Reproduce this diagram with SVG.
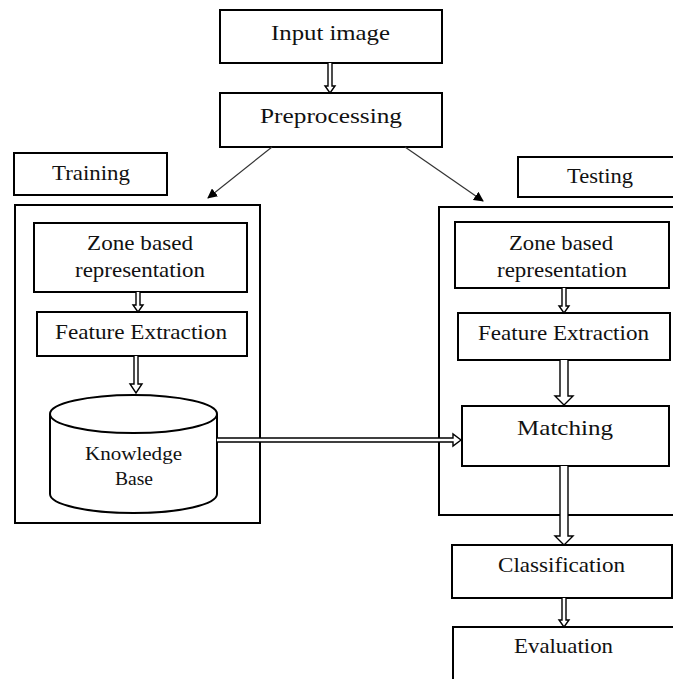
<svg xmlns="http://www.w3.org/2000/svg" width="673" height="679" viewBox="0 0 673 679">
<defs>
<marker id="ah" markerWidth="10" markerHeight="10" refX="9" refY="5" orient="auto" markerUnits="userSpaceOnUse">
<path d="M0,0 L10,5 L0,10 z" fill="#000"/>
</marker>
</defs>
<style>
.box{fill:#fff;stroke:#000;stroke-width:2}
.cont{fill:none;stroke:#000;stroke-width:2}
.t{font-family:"Liberation Serif","Times New Roman",serif;fill:#111;text-anchor:middle}
.f22{font-size:22px}
.f21{font-size:21px}
.f18{font-size:18px}
.dbl{fill:#fff;stroke:#000;stroke-width:1.4}
.thin{stroke:#333;stroke-width:1.2;fill:none}
</style>
<rect width="673" height="679" fill="#fff"/>

<g id="training-container"><rect class="cont" x="15" y="205" width="245" height="318"/></g>
<g id="testing-container"><path class="cont" d="M680,207 H439 V515 H680"/></g>

<g id="input-image"><rect class="box" x="220" y="10" width="222" height="53"/><text class="t f22" x="330.5" y="40" textLength="119" lengthAdjust="spacingAndGlyphs">Input image</text></g>
<g id="preprocessing"><rect class="box" x="220" y="93" width="222" height="54"/><text class="t f22" x="331" y="123" textLength="142" lengthAdjust="spacingAndGlyphs">Preprocessing</text></g>
<g id="training-label"><rect class="box" x="14" y="153" width="153" height="42"/><text class="t f21" x="91" y="180" textLength="78" lengthAdjust="spacingAndGlyphs">Training</text></g>
<g id="testing-label"><path class="box" d="M680,157 H518 V197 H680"/><text class="t f21" x="600" y="183" textLength="66" lengthAdjust="spacingAndGlyphs">Testing</text></g>

<g id="zone-left"><rect class="box" x="34" y="223" width="213" height="69"/><text class="t f21" x="140" y="250" textLength="106" lengthAdjust="spacingAndGlyphs">Zone based</text><text class="t f21" x="140" y="277" textLength="130" lengthAdjust="spacingAndGlyphs">representation</text></g>
<g id="feature-left"><rect class="box" x="37" y="312" width="210" height="44"/><text class="t f21" x="141" y="339" textLength="172" lengthAdjust="spacingAndGlyphs">Feature Extraction</text></g>
<g id="knowledge-base">
<path class="box" d="M50,414 V494 A83.5,19 0 0 0 217,494 V414"/>
<ellipse class="box" cx="133.5" cy="414" rx="83.5" ry="19"/>
<text class="t f18" x="133.5" y="460" textLength="97" lengthAdjust="spacingAndGlyphs">Knowledge</text><text class="t f18" x="134" y="485" textLength="38" lengthAdjust="spacingAndGlyphs">Base</text>
</g>

<g id="zone-right"><rect class="box" x="455" y="222" width="214" height="66"/><text class="t f21" x="561" y="250" textLength="104" lengthAdjust="spacingAndGlyphs">Zone based</text><text class="t f21" x="562" y="277" textLength="130" lengthAdjust="spacingAndGlyphs">representation</text></g>
<g id="feature-right"><rect class="box" x="458" y="313" width="212" height="47"/><text class="t f21" x="563.5" y="340" textLength="171" lengthAdjust="spacingAndGlyphs">Feature Extraction</text></g>
<g id="matching"><rect class="box" x="462" y="406" width="207" height="60"/><text class="t f22" x="565" y="435" textLength="96" lengthAdjust="spacingAndGlyphs">Matching</text></g>
<g id="classification"><rect class="box" x="452" y="545" width="220" height="53"/><text class="t f21" x="561.5" y="572" textLength="127" lengthAdjust="spacingAndGlyphs">Classification</text></g>
<g id="evaluation"><path class="box" d="M453,690 V627 H680"/><text class="t f21" x="563.5" y="653" textLength="99" lengthAdjust="spacingAndGlyphs">Evaluation</text></g>

<g id="connectors">
<line class="thin" x1="272" y1="147" x2="208" y2="198" marker-end="url(#ah)"/>
<line class="thin" x1="405" y1="147" x2="483" y2="201" marker-end="url(#ah)"/>
<path class="dbl" d="M328,63 V86 H325 L330,93 L335,86 H332 V63"/>
<path class="dbl" d="M136,292 V305 H133 L138,312 L143,305 H140 V292"/>
<path class="dbl" d="M134,356 V384 H130 L136,393 L142,384 H138 V356"/>
<path class="dbl" d="M562,288 V306 H559 L564,313 L569,306 H566 V288"/>
<path class="dbl" d="M560,360 V396 H555 L564,405 L573,396 H568 V360"/>
<path class="dbl" d="M560,466 V536 H555 L564,545 L573,536 H568 V466"/>
<path class="dbl" d="M562,598 V620 H559 L564,627 L569,620 H566 V598"/>
<path class="dbl" d="M217,438 H453 V434 L461,440 L453,446 V442 H217"/>
</g>
</svg>
